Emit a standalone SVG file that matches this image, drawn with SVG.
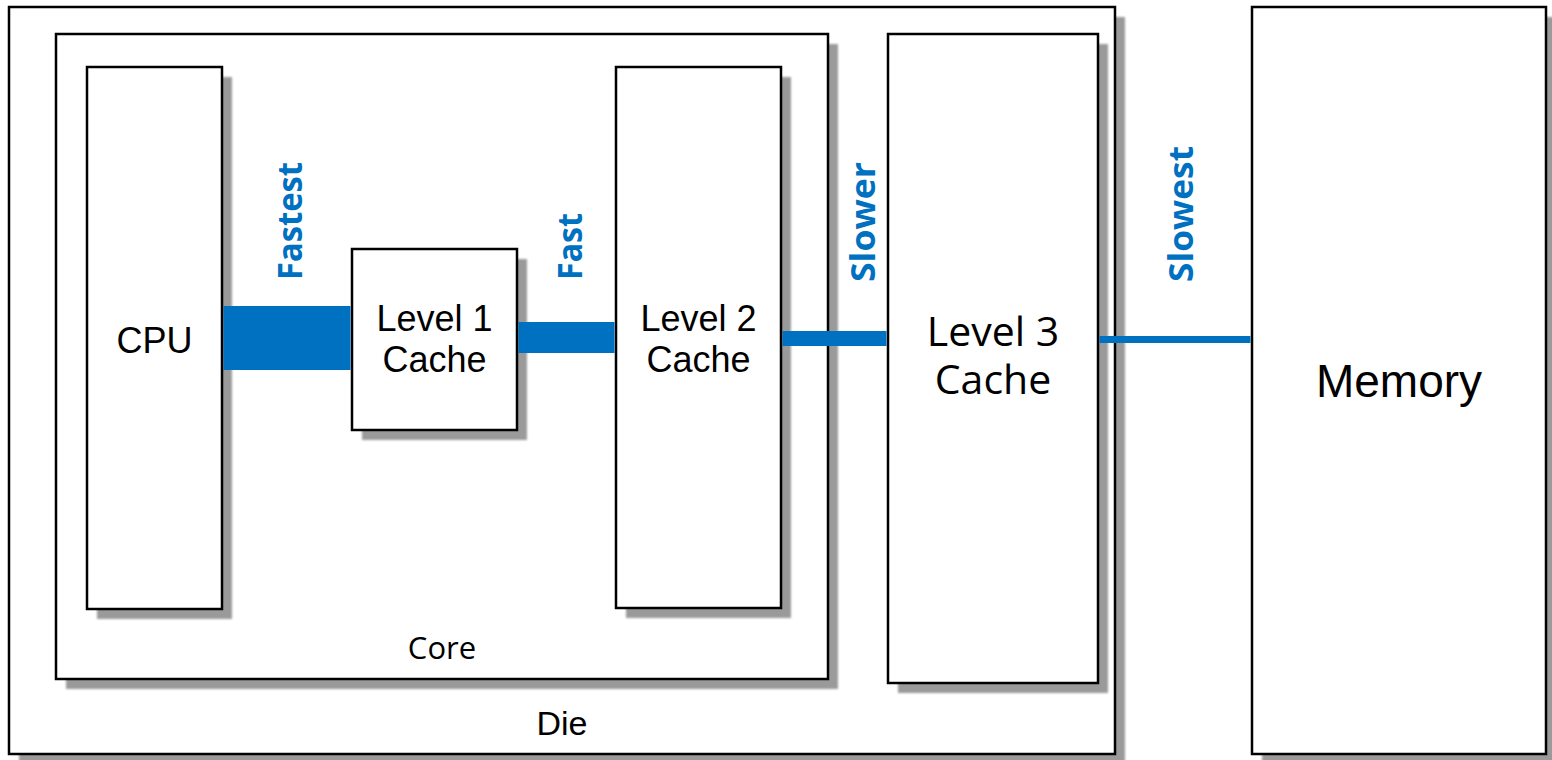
<svg xmlns="http://www.w3.org/2000/svg" width="1552" height="760" viewBox="0 0 1552 760">
  <defs>
    <filter id="soft" x="-5%" y="-5%" width="110%" height="110%">
      <feGaussianBlur stdDeviation="0.8"/>
    </filter>
    <style>
      .shadow { fill: #9a9a9a; filter: url(#soft); }
      .box { fill: #ffffff; stroke: #000000; stroke-width: 2.5; }
      .arial { font-family: "Liberation Sans", Arial, sans-serif; fill: #000; text-anchor: middle; }
      .cal { font-family: "Open Sans", "Liberation Sans", sans-serif; fill: #000; text-anchor: middle; }
      .bus { fill: #0070C0; }
      .speed { font-family: "Open Sans", "Liberation Sans", sans-serif; font-weight: bold; fill: #0070C0; font-size: 34px; }
    </style>
  </defs>
  <rect width="1552" height="760" fill="#ffffff"/>

  <g id="die">
    <rect class="shadow" x="19" y="17" width="1106" height="747"/>
    <rect class="box" x="9" y="7" width="1106" height="747"/>
    <text class="arial" x="562" y="735" font-size="34">Die</text>
  </g>

  <g id="core">
    <rect class="shadow" x="66" y="44" width="772" height="645"/>
    <rect class="box" x="56" y="34" width="772" height="645"/>
    <text class="cal" x="442" y="659" font-size="31">Core</text>
  </g>

  <g id="cpu">
    <rect class="shadow" x="97" y="77" width="135" height="542"/>
    <rect class="box" x="87" y="67" width="135" height="542"/>
    <text class="arial" x="154.5" y="353" font-size="36">CPU</text>
  </g>

  <g id="l1">
    <rect class="shadow" x="362" y="259" width="165" height="181"/>
    <rect class="box" x="352" y="249" width="165" height="181"/>
    <text class="arial" font-size="36"><tspan x="434.5" y="331">Level 1</tspan><tspan x="434.5" y="372">Cache</tspan></text>
  </g>

  <g id="l2">
    <rect class="shadow" x="626" y="77" width="165" height="541"/>
    <rect class="box" x="616" y="67" width="165" height="541"/>
    <text class="arial" font-size="36"><tspan x="698.5" y="331">Level 2</tspan><tspan x="698.5" y="372">Cache</tspan></text>
  </g>

  <g id="l3">
    <rect class="shadow" x="898" y="44" width="210" height="649"/>
    <rect class="box" x="888" y="34" width="210" height="649"/>
    <text class="cal" font-size="41"><tspan x="993" y="346">Level 3</tspan><tspan x="993" y="394">Cache</tspan></text>
  </g>

  <g id="memory">
    <rect class="shadow" x="1262" y="17" width="294" height="747"/>
    <rect class="box" x="1252" y="7" width="294" height="747"/>
    <text class="arial" x="1399" y="397" font-size="46">Memory</text>
  </g>

  <g id="connectors">
    <rect class="bus" x="223.5" y="306" width="127" height="64"/>
    <rect class="bus" x="518.5" y="322" width="96" height="31"/>
    <rect class="bus" x="782.5" y="331" width="104" height="15"/>
    <rect class="bus" x="1099.5" y="336" width="151" height="7"/>
  </g>

  <g id="labels">
    <text class="speed" transform="translate(302,280) rotate(-90)" textLength="118" lengthAdjust="spacingAndGlyphs">Fastest</text>
    <text class="speed" transform="translate(582,280) rotate(-90)" textLength="67" lengthAdjust="spacingAndGlyphs">Fast</text>
    <text class="speed" transform="translate(875,282) rotate(-90)" textLength="120" lengthAdjust="spacingAndGlyphs">Slower</text>
    <text class="speed" transform="translate(1193,282) rotate(-90)" textLength="136" lengthAdjust="spacingAndGlyphs">Slowest</text>
  </g>
</svg>
